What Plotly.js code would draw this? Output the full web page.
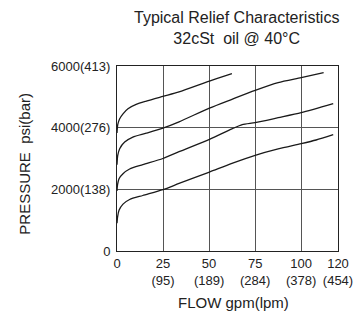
<!DOCTYPE html>
<html>
<head>
<meta charset="utf-8">
<script src="https://cdn.plot.ly/plotly-3.0.1.min.js"></script>
<style>html,body{margin:0;padding:0;background:#fff;}#chart{width:357px;height:313px;}</style>
</head>
<body>
<div id="chart"></div>
<script>
// Flow in gpm, pressure in psi
var flow1 = [0, 0.4, 1.46, 3.26, 5.96, 10.4, 15.9, 24.9, 33.7, 50.2, 62.4];
var pres1 = [3830, 4100, 4290, 4450, 4615, 4755, 4862, 5014, 5160, 5510, 5750];

var flow2 = [0, 0.4, 1.46, 4.16, 8.6, 15.9, 24.9, 33.7, 50.2, 62.4, 75, 87.5, 100, 112.2];
var pres2 = [2800, 3100, 3318, 3533, 3695, 3820, 3985, 4190, 4635, 4920, 5208, 5460, 5620, 5782];

var flow3 = [0, 0.3, 1.1, 3.26, 6.86, 14, 24.9, 33.7, 50.2, 62.4, 68, 75, 87.5, 100, 117.4];
var pres3 = [1950, 2150, 2346, 2508, 2660, 2800, 3000, 3220, 3620, 3960, 4100, 4165, 4323, 4485, 4777];

var flow4 = [0, 0.3, 1.1, 3.26, 6.86, 14, 24.9, 33.7, 50.2, 62.4, 75, 87.5, 100, 108.1, 117.4];
var pres4 = [900, 1100, 1319, 1520, 1670, 1800, 1990, 2190, 2560, 2840, 3102, 3310, 3480, 3600, 3772];

var xTickVals = [0, 25, 50, 75, 100, 120];
var xTickText = ['0', '25<br>(95)', '50<br>(189)', '75<br>(284)', '100<br>(378)', '120<br>(454)'];
var yTickVals = [0, 2000, 4000, 6000];
var yTickText = ['0', '2000(138)', '4000(276)', '6000(413)'];

var titleText = 'Typical Relief Characteristics<br>32cSt  oil @ 40°C';
var xTitleText = 'FLOW gpm(lpm)';
var yTitleText = 'PRESSURE  psi(bar)';

var lineStyle = {color: '#1a1a1a', width: 1.3, shape: 'spline', smoothing: 0.7};
function curve(x, y) {
  return {x: x, y: y, mode: 'lines', type: 'scatter', line: lineStyle, hoverinfo: 'skip'};
}
var data = [curve(flow1, pres1), curve(flow2, pres2), curve(flow3, pres3), curve(flow4, pres4)];

var fam = 'Liberation Sans, Arial, sans-serif';
var txt = '#222';
var layout = {
  width: 357, height: 313,
  margin: {l: 117, r: 19, t: 66, b: 62},
  paper_bgcolor: '#fff', plot_bgcolor: '#fff',
  showlegend: false,
  font: {family: fam, color: txt, size: 13},
  xaxis: {
    range: [0, 120], tickvals: xTickVals, ticktext: xTickText,
    showgrid: true, gridcolor: '#555', gridwidth: 1,
    zeroline: false, showline: true, linecolor: '#222', linewidth: 1, mirror: true,
    ticks: '', tickfont: {size: 13, color: txt}, fixedrange: true
  },
  yaxis: {
    range: [0, 6000], tickvals: yTickVals, ticktext: yTickText,
    showgrid: true, gridcolor: '#555', gridwidth: 1,
    zeroline: false, showline: true, linecolor: '#222', linewidth: 1, mirror: true,
    ticks: '', ticklabelstandoff: 3, tickfont: {size: 13, color: txt}, fixedrange: true
  },
  annotations: [
    {text: titleText, xref: 'paper', yref: 'paper', x: 0.54, y: 1.208,
     xanchor: 'center', yanchor: 'middle', showarrow: false,
     font: {size: 16, color: txt, family: fam}},
    {text: xTitleText, xref: 'paper', yref: 'paper', x: 0.529, y: -0.28,
     xanchor: 'center', yanchor: 'middle', showarrow: false,
     font: {size: 15, color: txt, family: fam}},
    {text: yTitleText, xref: 'paper', yref: 'paper', x: -0.42, y: 0.473,
     xanchor: 'center', yanchor: 'middle', showarrow: false, textangle: -90,
     font: {size: 15, color: txt, family: fam}}
  ]
};
Plotly.newPlot('chart', data, layout, {staticPlot: true, displayModeBar: false});
</script>
</body>
</html>
